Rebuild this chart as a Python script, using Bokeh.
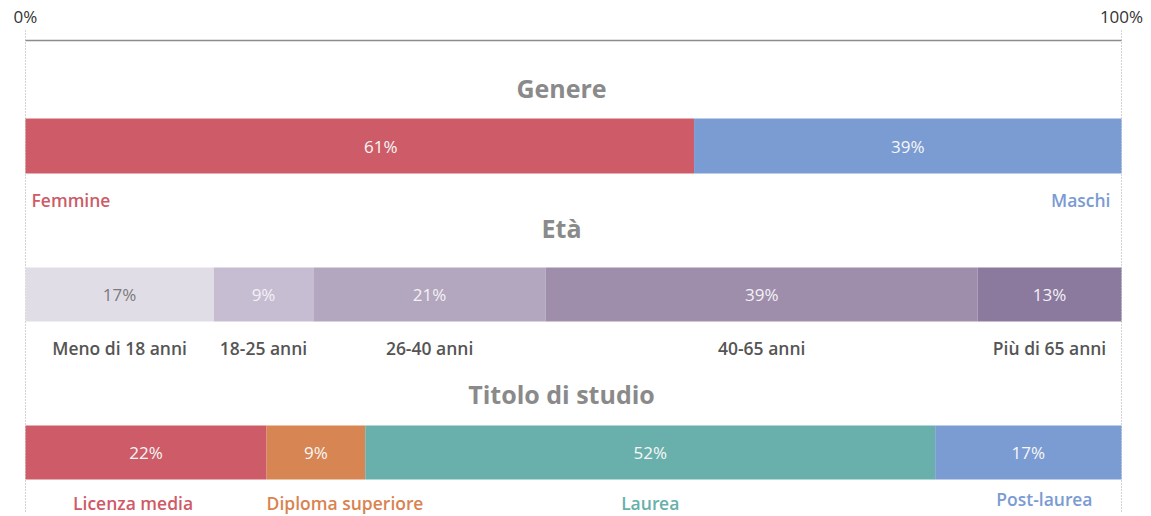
from bokeh.plotting import figure
from bokeh.models import Range1d, ColumnDataSource
from bokeh.core.properties import value
from bokeh.embed import file_html
from bokeh.resources import INLINE

# ---------------- data ----------------
group_titles = ["Genere", "Età", "Titolo di studio"]

genere_labels = ["Femmine", "Maschi"]
genere_values = [61, 39]
genere_colors = ["#cd5c68", "#7b9bd3"]

eta_labels = ["Meno di 18 anni", "18-25 anni", "26-40 anni", "40-65 anni", "Più di 65 anni"]
eta_values = [17, 9, 21, 39, 13]
eta_colors = ["#e1dde7", "#c6bdd2", "#b3a6bf", "#9e8eab", "#8b7a9e"]

titolo_labels = ["Licenza media", "Diploma superiore", "Laurea", "Post-laurea"]
titolo_values = [22, 9, 52, 17]
titolo_colors = ["#cd5c68", "#d78552", "#69b0ac", "#7b9bd3"]

axis_tick_labels = ["0%", "100%"]

# ---------------- layout ----------------
W, H = 1150, 515
PAGE_OFF = 0
X0_PAGE, X1_PAGE = 25, 1121          # page px where 0% and 100% sit
scale = 100.0 / (X1_PAGE - X0_PAGE)
x_start = (PAGE_OFF - X0_PAGE) * scale
x_end = (PAGE_OFF + W - X0_PAGE) * scale

def px(dx):
    return dx * scale

p = figure(width=W, height=H, output_backend="svg", toolbar_location=None,
           x_range=Range1d(x_start, x_end), y_range=Range1d(PAGE_OFF + H, PAGE_OFF),
           min_border=0, min_border_left=0, min_border_right=0,
           min_border_top=0, min_border_bottom=0)
p.axis.visible = False
p.grid.visible = False
p.outline_line_color = None
p.background_fill_color = "white"
p.border_fill_color = "white"

FONT = value("Open Sans")
SEMI = value("Open Sans SemiBold")

# dotted boundary lines
p.segment(x0=[0, 100], y0=[30, 30], x1=[0, 100], y1=[512, 512],
          line_color="#a8a8a8", line_width=1, line_dash="1 2")
# top axis line
p.segment(x0=[0], y0=[40], x1=[100], y1=[40], line_color="#8c8c8c", line_width=1.5)
p.text(x=[0, 100], y=[16, 16], text=axis_tick_labels, text_align="center",
       text_baseline="middle", text_font=FONT, text_font_size="17px", text_color="#333333")

def stacked(values):
    tot = float(sum(values))
    lefts, rights = [], []
    acc = 0.0
    for v in values:
        lefts.append(acc / tot * 100)
        acc += v
        rights.append(acc / tot * 100)
    return lefts, rights

groups = [
    (genere_labels, genere_values, genere_colors, 87, 118, 173, 199),
    (eta_labels, eta_values, eta_colors, 227, 267, 321, 347),
    (titolo_labels, titolo_values, titolo_colors, 393, 425, 479, 502),
]

TITLE_X = 50 - px(12)

for gi, (labels, values, colors, ty, btop, bbot, ly) in enumerate(groups):
    lefts, rights = stacked(values)
    centers = [(l + r) / 2 for l, r in zip(lefts, rights)]
    src = ColumnDataSource(dict(left=lefts, right=rights, color=colors,
                                top=[btop] * len(values), bottom=[bbot] * len(values)))
    p.quad(left="left", right="right", top="top", bottom="bottom", fill_color="color",
           line_color=None, source=src)
    # title
    p.text(x=[TITLE_X], y=[ty], text=[group_titles[gi]], text_align="center",
           text_baseline="middle", text_font=FONT, text_font_size="25px",
           text_font_style="bold", text_color="#8a8a8a")
    # percent labels
    pct = ["%d%%" % v for v in values]
    if gi == 1:
        pcol = ["#7a7a7a"] + ["#f4f2f6"] * (len(values) - 1)
    else:
        pcol = ["#f7f7f7"] * len(values)
    pcx = list(centers)
    if gi == 0:
        pcx[0] = centers[0] + px(21)
    p.text(x=pcx, y=[(btop + bbot) / 2] * len(values), text=pct, text_color=pcol,
           text_align="center", text_baseline="middle", text_font=FONT,
           text_font_size="17px")
    # category labels
    if gi == 0:
        p.text(x=[lefts[0] + px(6)], y=[ly], text=[labels[0]], text_align="left",
               text_baseline="middle", text_font=SEMI, text_font_size="17.5px",
               text_color=colors[0])
        p.text(x=[rights[1] - px(11)], y=[ly], text=[labels[1]], text_align="right",
               text_baseline="middle", text_font=SEMI, text_font_size="17.5px",
               text_color=colors[1])
    elif gi == 1:
        p.text(x=centers, y=[ly] * len(labels), text=labels, text_align="center",
               text_baseline="middle", text_font=SEMI, text_font_size="17.5px",
               text_color="#555555")
    else:
        lab_colors = ["#cf5a66", "#d98350", "#68b0ab", "#7b9bd3"]
        xs = [centers[0] - px(13), lefts[1] + px(0), centers[2], centers[3] + px(16)]
        ys = [ly, ly, ly, ly - 4]
        aligns = ["center", "left", "center", "center"]
        for x, y, t, c, a in zip(xs, ys, labels, lab_colors, aligns):
            p.text(x=[x], y=[y], text=[t], text_align=a, text_baseline="middle",
                   text_font=SEMI, text_font_size="17.5px", text_color=c)

open("out.html", "w").write(file_html(p, INLINE))
